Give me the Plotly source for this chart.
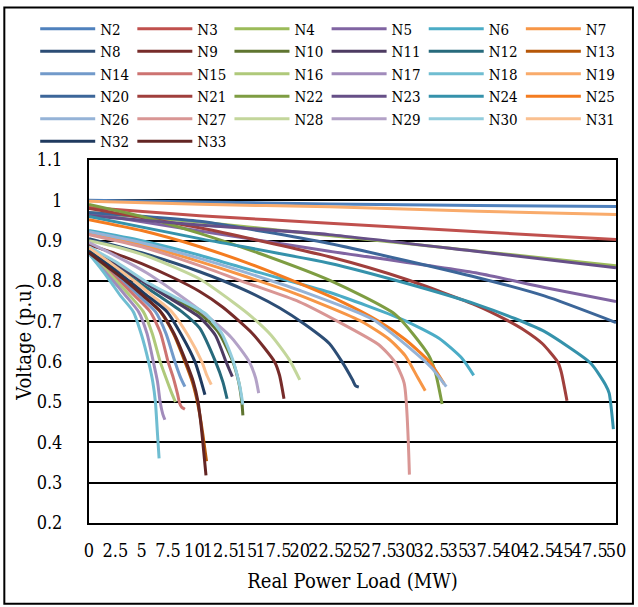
import plotly.graph_objects as go

# ---------------- data ----------------
N2_P = [0, 10.5, 22.8, 36.9, 50]
N2_V = [1.0, 0.996, 0.991, 0.987, 0.985]
N3_P = [0, 10.5, 22.8, 36.9, 50]
N3_V = [0.982, 0.962, 0.943, 0.922, 0.903]
N4_P = [0, 10.5, 22.8, 36.9, 50]
N4_V = [0.97, 0.946, 0.913, 0.874, 0.838]
N5_P = [0, 10.5, 22.8, 36.9, 43.2, 50]
N5_V = [0.968, 0.924, 0.874, 0.819, 0.784, 0.749]
N6_P = [0, 5, 10.5, 16, 22.8, 29.7, 33.2, 35.4, 36.5]
N6_V = [0.925, 0.9, 0.864, 0.822, 0.772, 0.705, 0.658, 0.608, 0.566]
N7_P = [0, 5, 10.5, 15, 19.95, 25.9, 28.5, 30.0, 31.2, 31.9]
N7_V = [0.918, 0.89, 0.848, 0.81, 0.765, 0.699, 0.655, 0.615, 0.56, 0.528]
N8_P = [0, 5, 10.5, 15, 18.1, 20.5, 22.8, 24.0, 25.0, 25.3, 25.6]
N8_V = [0.905, 0.87, 0.823, 0.775, 0.733, 0.692, 0.645, 0.60, 0.555, 0.54, 0.537]
N9_P = [0, 2.5, 5, 8, 10.5, 12.7, 15.5, 17.6, 18.07, 18.5]
N9_V = [0.89, 0.868, 0.843, 0.808, 0.774, 0.735, 0.67, 0.60, 0.567, 0.508]
N10_P = [0, 2.6, 5.2, 7.8, 10.5, 12.3, 13.65, 14.2, 14.5, 14.6]
N10_V = [0.88, 0.842, 0.80, 0.762, 0.72, 0.672, 0.60, 0.55, 0.50, 0.467]
N11_P = [0, 2.5, 5.0, 7.5, 10.5, 12.0, 13.0, 13.4, 13.6]
N11_V = [0.878, 0.84, 0.80, 0.76, 0.71, 0.665, 0.60, 0.575, 0.563]
N12_P = [0, 2.2, 4.5, 6.7, 8.8, 10.5, 12.0, 12.7, 13.1]
N12_V = [0.876, 0.84, 0.80, 0.762, 0.724, 0.683, 0.60, 0.55, 0.508]
N13_P = [0, 1.7, 3.5, 5.2, 6.75, 8.0, 9.1, 9.8, 10.2, 10.5, 10.8, 11.15]
N13_V = [0.872, 0.837, 0.80, 0.762, 0.724, 0.67, 0.60, 0.55, 0.51, 0.47, 0.42, 0.353]
N14_P = [0, 1.6, 3.2, 4.8, 6.3, 7.3, 8.15, 8.7, 9.1]
N14_V = [0.872, 0.837, 0.80, 0.762, 0.724, 0.67, 0.60, 0.56, 0.538]
N15_P = [0, 1.4, 2.9, 4.4, 5.8, 6.8, 7.5, 8.0, 8.4, 8.6, 8.8, 9.1]
N15_V = [0.87, 0.835, 0.80, 0.762, 0.724, 0.67, 0.60, 0.56, 0.52, 0.497, 0.487, 0.482]
N16_P = [0, 1.3, 2.6, 3.9, 5.15, 6.0, 6.75, 7.3, 7.8, 8.2]
N16_V = [0.87, 0.836, 0.80, 0.763, 0.724, 0.67, 0.60, 0.56, 0.525, 0.50]
N17_P = [0, 1, 2.3, 3.5, 4.7, 5.5, 6.1, 6.5, 6.75, 7.0, 7.2]
N17_V = [0.868, 0.838, 0.80, 0.763, 0.724, 0.67, 0.60, 0.55, 0.50, 0.47, 0.456]
N18_P = [0, 1, 2, 3, 4.2, 5.0, 5.65, 6.05, 6.3, 6.5, 6.65]
N18_V = [0.868, 0.835, 0.80, 0.763, 0.724, 0.665, 0.60, 0.55, 0.50, 0.42, 0.36]
N19_P = [0, 10.5, 22.8, 36.9, 50]
N19_V = [0.998, 0.99, 0.984, 0.973, 0.965]
N20_P = [0, 10.5, 22.8, 36.9, 43.2, 50]
N20_V = [0.97, 0.948, 0.893, 0.808, 0.763, 0.697]
N21_P = [0, 10.5, 22.8, 30, 36.9, 39.5, 41.3, 43, 44.5, 44.8, 45.35]
N21_V = [0.98, 0.932, 0.86, 0.805, 0.738, 0.705, 0.678, 0.645, 0.598, 0.575, 0.503]
N22_P = [0, 5, 10.5, 16, 22.8, 29.1, 32.2, 32.85, 33.5]
N22_V = [0.99, 0.96, 0.918, 0.87, 0.802, 0.716, 0.617, 0.575, 0.495]
N23_P = [0, 10.5, 22.8, 36.9, 50]
N23_V = [0.962, 0.939, 0.915, 0.873, 0.833]
N24_P = [0, 10.5, 22.8, 30, 36.9, 40.4, 43.2, 47.6, 49.0, 49.35, 49.75]
N24_V = [0.96, 0.905, 0.844, 0.795, 0.741, 0.707, 0.675, 0.596, 0.543, 0.522, 0.433]
N25_P = [0, 5, 10.5, 15, 19.95, 23.7, 27.5, 30.0, 32.3, 33.7]
N25_V = [0.952, 0.925, 0.885, 0.845, 0.794, 0.752, 0.70, 0.655, 0.60, 0.545]
N26_P = [0, 5, 10.5, 15, 19.95, 26.9, 30.6, 32.5, 33.9]
N26_V = [0.922, 0.895, 0.856, 0.82, 0.777, 0.705, 0.63, 0.585, 0.538]
N27_P = [0, 5, 10.5, 15, 19.9, 23.6, 27.5, 29.0, 29.9, 30.4]
N27_V = [0.915, 0.885, 0.838, 0.795, 0.749, 0.70, 0.642, 0.60, 0.547, 0.32]
N28_P = [0, 3, 6, 10.5, 13.8, 15.5, 17.3, 19.0, 20.0]
N28_V = [0.90, 0.882, 0.857, 0.805, 0.745, 0.71, 0.665, 0.605, 0.555]
N29_P = [0, 2.7, 5.5, 8, 10.5, 13.5, 15.2, 15.8, 16.1]
N29_V = [0.895, 0.86, 0.82, 0.776, 0.728, 0.66, 0.60, 0.56, 0.522]
N30_P = [0, 2.7, 5.3, 8.0, 11.0, 12.6, 13.7, 14.3, 14.6]
N30_V = [0.885, 0.845, 0.80, 0.762, 0.72, 0.67, 0.60, 0.54, 0.494]
N31_P = [0, 2.1, 4.3, 6.1, 7.85, 9.4, 10.7, 11.2, 11.6]
N31_V = [0.882, 0.843, 0.80, 0.762, 0.724, 0.665, 0.60, 0.565, 0.543]
N32_P = [0, 1.9, 3.8, 5.6, 7.4, 8.8, 10.05, 10.6, 11.0]
N32_V = [0.873, 0.838, 0.80, 0.762, 0.724, 0.665, 0.60, 0.555, 0.518]
N33_P = [0, 1.7, 3.5, 5.2, 6.8, 8.1, 9.2, 9.9, 10.35, 10.6, 10.8, 11.1]
N33_V = [0.87, 0.836, 0.80, 0.762, 0.724, 0.668, 0.60, 0.55, 0.50, 0.45, 0.40, 0.318]

SERIES = [
    ("N2", N2_P, N2_V), ("N3", N3_P, N3_V), ("N4", N4_P, N4_V),
    ("N5", N5_P, N5_V), ("N6", N6_P, N6_V), ("N7", N7_P, N7_V),
    ("N8", N8_P, N8_V), ("N9", N9_P, N9_V), ("N10", N10_P, N10_V),
    ("N11", N11_P, N11_V), ("N12", N12_P, N12_V), ("N13", N13_P, N13_V),
    ("N14", N14_P, N14_V), ("N15", N15_P, N15_V), ("N16", N16_P, N16_V),
    ("N17", N17_P, N17_V), ("N18", N18_P, N18_V), ("N19", N19_P, N19_V),
    ("N20", N20_P, N20_V), ("N21", N21_P, N21_V), ("N22", N22_P, N22_V),
    ("N23", N23_P, N23_V), ("N24", N24_P, N24_V), ("N25", N25_P, N25_V),
    ("N26", N26_P, N26_V), ("N27", N27_P, N27_V), ("N28", N28_P, N28_V),
    ("N29", N29_P, N29_V), ("N30", N30_P, N30_V), ("N31", N31_P, N31_V),
    ("N32", N32_P, N32_V), ("N33", N33_P, N33_V),
]

X_TICKS = [0, 2.5, 5, 7.5, 10, 12.5, 15, 17.5, 20, 22.5, 25, 27.5, 30,
           32.5, 35, 37.5, 40, 42.5, 45, 47.5, 50]
X_TICK_TEXT = ["0", "2.5", "5", "7.5", "10", "12.5", "15", "17.5", "20",
               "22.5", "25", "27.5", "30", "32.5", "35", "37.5", "40",
               "42.5", "45", "47.5", "50"]
Y_TICKS = [0.2, 0.3, 0.4, 0.5, 0.6, 0.7, 0.8, 0.9, 1.0, 1.1]
Y_TICK_TEXT = ["0.2", "0.3", "0.4", "0.5", "0.6", "0.7", "0.8", "0.9", "1", "1.1"]

# ---------------- styles ----------------
COLORS = [
    "#4F81BD", "#C0504D", "#9BBB59", "#8064A2", "#4BACC6", "#F79646",
    "#2C4D75", "#772C2A", "#5F7530", "#4D3B62", "#276A7C", "#B65708",
    "#729ACA", "#CD7371", "#AFC97A", "#A18BBB", "#6FBDD1", "#F9AB6B",
    "#3C6699", "#A03F3C", "#7E9D42", "#664F87", "#3592AB", "#F47C20",
    "#95B3D7", "#D99694", "#C3D69B", "#B3A2C7", "#93CDDD", "#FAC090",
    "#1F3A5F", "#632523",
]
FONT = "DejaVu Serif Condensed"

L, R, T, B = 89, 20, 159, 84
W, H = 638, 607
pw, ph = W - L - R, H - T - B

def px2paper_x(px):
    return (px - L) / pw

def px2paper_y(py):
    return (H - B - py) / ph

LEG_NAMES = ["legend", "legend2", "legend3", "legend4", "legend5", "legend6"]
LEG_TEXT_X = [100, 197.5, 295, 392.5, 490, 587.5]
ITEM_W = 55

fig = go.Figure()
for i, ((name, p, v), c) in enumerate(zip(SERIES, COLORS)):
    fig.add_trace(go.Scatter(
        x=p, y=v, name=name, mode="lines", legend=LEG_NAMES[i % 6],
        line=dict(color=c, width=3, shape="spline", smoothing=0.6),
    ))

legends = {}
for k, tx in zip(LEG_NAMES, LEG_TEXT_X):
    legends[k] = dict(
        orientation="v", x=px2paper_x(tx - ITEM_W - 10), xanchor="left",
        y=px2paper_y(11), yanchor="top", itemwidth=ITEM_W,
        font=dict(family=FONT, size=15, color="black"),
        bgcolor="rgba(0,0,0,0)", traceorder="normal",
        itemclick=False, tracegroupgap=0,
    )

fig.update_layout(
    width=W, height=H,
    margin=dict(l=L, r=R, t=T, b=B, pad=0),
    paper_bgcolor="white", plot_bgcolor="white",
    font=dict(family=FONT, color="black", size=18),
    showlegend=True,
    xaxis=dict(
        range=[0, 50], tickmode="array", tickvals=X_TICKS, ticktext=X_TICK_TEXT,
        tickangle=0, showgrid=False, zeroline=False,
        showline=True, linecolor="black", linewidth=2, mirror=True,
        ticks="", ticklabelstandoff=10,
        tickfont=dict(family=FONT, size=18, color="black"),
        title=dict(text="Real Power Load (MW)", standoff=14,
                   font=dict(family=FONT, size=20, color="black")),
    ),
    yaxis=dict(
        range=[0.2, 1.1], tickmode="array", tickvals=Y_TICKS, ticktext=Y_TICK_TEXT,
        showgrid=True, gridcolor="black", gridwidth=1.5, zeroline=False,
        showline=True, linecolor="black", linewidth=2, mirror=True,
        ticks="", ticklabelstandoff=21,
        tickfont=dict(family=FONT, size=18, color="black"),
        title=dict(text="Voltage (p.u)", standoff=0,
                   font=dict(family=FONT, size=20, color="black")),
    ),
    shapes=[dict(
        type="rect", xref="paper", yref="paper",
        x0=px2paper_x(4), x1=px2paper_x(635),
        y0=px2paper_y(604), y1=px2paper_y(6),
        line=dict(color="black", width=2), fillcolor="rgba(0,0,0,0)",
        layer="above",
    )],
    **legends,
)

fig.write_html("out.html")
